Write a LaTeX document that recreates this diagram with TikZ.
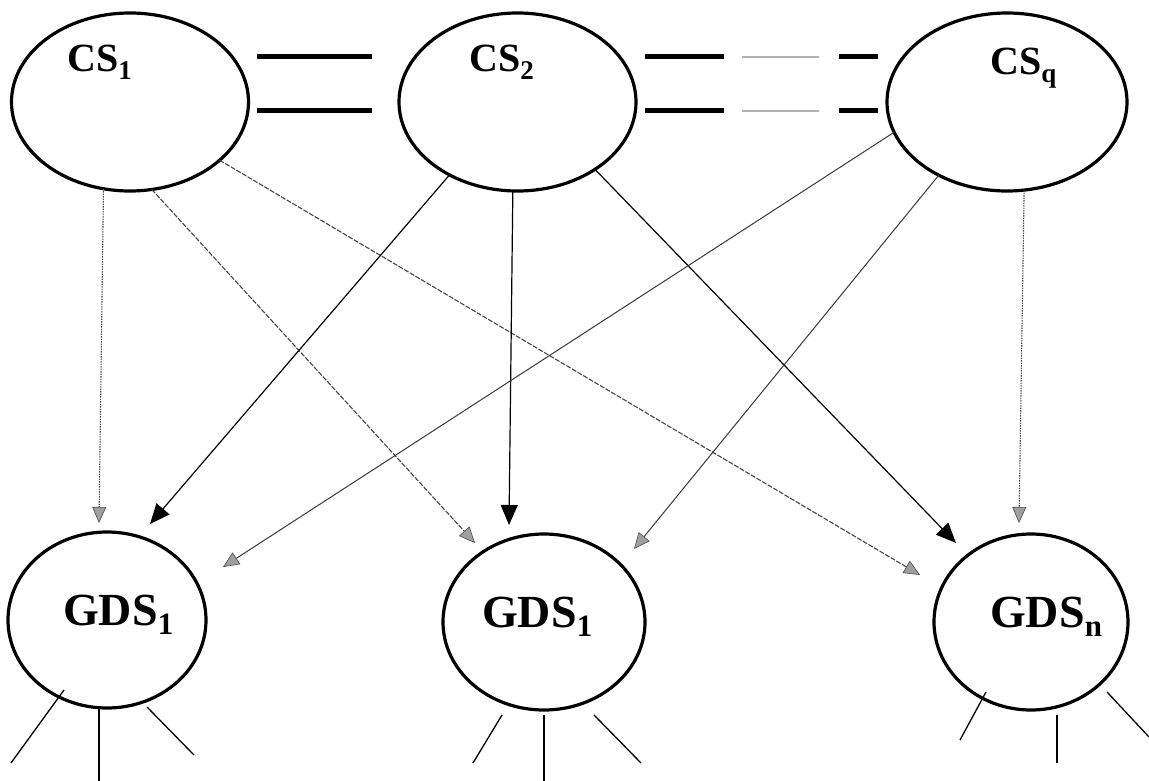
\documentclass[tikz,border=0pt]{standalone}
\usepackage{fontspec}
\setmainfont{Liberation Serif}
\usetikzlibrary{shapes.geometric,arrows.meta}
\newcommand\csl[2]{#1\raisebox{-0.2em}{\fontsize{27}{27}\selectfont #2}}
\newcommand\gdl[2]{#1\raisebox{-0.2em}{\fontsize{31}{31}\selectfont #2}}
\begin{document}
\begin{tikzpicture}[x=1pt,y=-1pt,
  ell/.style={draw=black, line width=3.2pt, ellipse, inner sep=0pt, outer sep=0pt},
  cslbl/.style={font=\fontsize{40}{42}\bfseries\selectfont, anchor=base west, inner sep=0pt},
  gdlbl/.style={font=\fontsize{46}{48}\bfseries\selectfont, anchor=base west, inner sep=0pt},
  bar/.style={line width=5pt, black},
  thinbar/.style={line width=1.6pt, gray!60},
  blk/.style={line width=1.2pt, black, -{Triangle[length=20pt,width=17pt]}},
  gtip/.style={-{Triangle[length=16pt,width=14pt,fill=gray!75,color=gray!60!black,line width=0.6pt]}},
  dotg/.style={gtip, line width=1.1pt, gray!60!black, dash pattern=on 1.5pt off 1pt},
  dashg/.style={gtip, line width=1.1pt, gray!55!black, dash pattern=on 5pt off 1.5pt},
  solg/.style={gtip, line width=1pt, gray!45!black},
  stub/.style={line width=1.3pt, black}
]
\fill[white] (0,0) rectangle (1149,781);
\useasboundingbox (0,0) rectangle (1149,781);

% client stations
\node[ell, minimum width=237pt, minimum height=178pt] (cs1) at (130,102) {};
\node[ell, minimum width=237pt, minimum height=178pt] (cs2) at (517.5,102) {};
\node[ell, minimum width=240pt, minimum height=178pt] (csq) at (1007,102) {};
\node[cslbl] (l1) at (67,72) {\csl{CS}{1}};
\node[cslbl] (l2) at (469,72) {\csl{CS}{2}};
\node[cslbl] (lq) at (990,75) {\csl{CS}{q}};

% global data stations
\node[ell, minimum width=198pt, minimum height=176pt] (gda) at (107,620) {};
\node[ell, minimum width=202pt, minimum height=176pt] (gdb) at (544,622) {};
\node[ell, minimum width=194pt, minimum height=176pt] (gdn) at (1031,622) {};
\node[gdlbl] (ga) at (63,625) {\gdl{GDS}{1}};
\node[gdlbl] (gb) at (482,627) {\gdl{GDS}{1}};
\node[gdlbl] (gn) at (990,627) {\gdl{GDS}{n}};

% links between client stations
\coordinate (p1) at (257,57);  \coordinate (p2) at (372,57);
\coordinate (p3) at (257,111); \coordinate (p4) at (372,111);
\draw[bar] (p1) -- (p2);
\draw[bar] (p3) -- (p4);
\foreach \yy/\n in {57/u,111/d}{
  \coordinate (a\n) at (645,\yy); \coordinate (b\n) at (724,\yy);
  \coordinate (c\n) at (742,\yy); \coordinate (d\n) at (819,\yy);
  \coordinate (e\n) at (839,\yy); \coordinate (f\n) at (878,\yy);
  \draw[bar] (a\n) -- (b\n);
  \draw[thinbar] (c\n) -- (d\n);
  \draw[bar] (e\n) -- (f\n);
}

% arrow tips
\coordinate (ta) at (99,523);
\coordinate (tb) at (475,543);
\coordinate (tc) at (920,575);
\coordinate (td) at (150,524);
\coordinate (te) at (509,525);
\coordinate (tf) at (956,543);
\coordinate (tg) at (223,567);
\coordinate (th) at (634,549);
\coordinate (ti) at (1019,523);

\draw[dotg] (cs1.-107) -- (ta);
\draw[dashg] (cs1.-76) -- (tb);
\draw[dashg] (cs1.-33) -- (tc);
\draw[blk] (cs2.-133) -- (td);
\draw[blk] (cs2.-93) -- (te);
\draw[blk] (cs2.-41) -- (tf);
\draw[solg] (csq.-165) -- (tg);
\draw[solg] (csq.-133) -- (th);
\draw[dotg] (csq.-79) -- (ti);

% stubs below global data stations
\coordinate (sa1) at (64,690);   \coordinate (ea1) at (11,763);
\coordinate (sa2) at (99,707);   \coordinate (ea2) at (99,781);
\coordinate (sa3) at (147,707);  \coordinate (ea3) at (194,755);
\coordinate (sb1) at (502,715);  \coordinate (eb1) at (473,763);
\coordinate (sb2) at (544,715);  \coordinate (eb2) at (544,781);
\coordinate (sb3) at (594,715);  \coordinate (eb3) at (641,763);
\coordinate (sn1) at (986,692);  \coordinate (en1) at (960,740);
\coordinate (sn2) at (1057,715); \coordinate (en2) at (1057,763);
\coordinate (sn3) at (1107,692); \coordinate (en3) at (1149,737);
\draw[stub] (sa1) -- (ea1);
\draw[stub] (sa2) -- (ea2);
\draw[stub] (sa3) -- (ea3);
\draw[stub] (sb1) -- (eb1);
\draw[stub] (sb2) -- (eb2);
\draw[stub] (sb3) -- (eb3);
\draw[stub] (sn1) -- (en1);
\draw[stub] (sn2) -- (en2);
\draw[stub] (sn3) -- (en3);
\end{tikzpicture}
\end{document}
